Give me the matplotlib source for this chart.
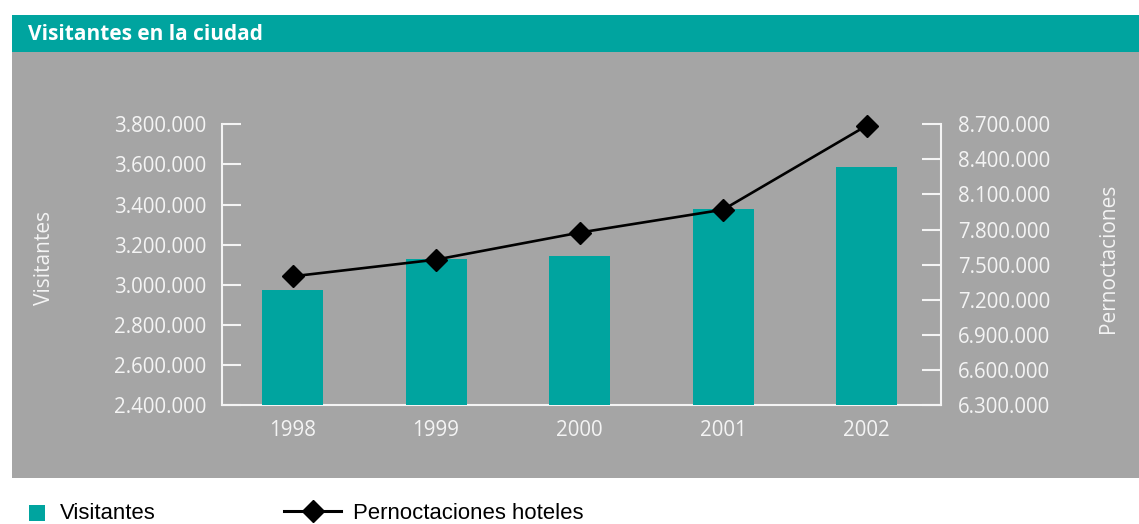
import matplotlib
matplotlib.use("Agg")
import matplotlib.pyplot as plt
from matplotlib.patches import Rectangle
from matplotlib.lines import Line2D
from matplotlib.ticker import FuncFormatter, FixedLocator

# --- data -------------------------------------------------------------
years = ["1998", "1999", "2000", "2001", "2002"]
visitantes = [2974000, 3128000, 3145000, 3378000, 3587000]
pernoctaciones = [7400000, 7543000, 7774000, 7970000, 8688000]

left_ticks = [2400000, 2600000, 2800000, 3000000, 3200000, 3400000, 3600000, 3800000]
right_ticks = [6300000, 6600000, 6900000, 7200000, 7500000, 7800000, 8100000, 8400000, 8700000]

title = "Visitantes en la ciudad"
left_label = "Visitantes"
right_label = "Pernoctaciones"
legend_labels = ["Visitantes", "Pernoctaciones hoteles"]

# --- style ------------------------------------------------------------
TEAL = "#00A49F"
GREY = "#A5A5A5"
WHITE = "#F4F4F4"
W, H = 1139, 524
DPI = 100

num_font = ["Open Sans", "DejaVu Sans"]
leg_font = ["Liberation Sans", "DejaVu Sans"]

fig = plt.figure(figsize=(W / DPI, H / DPI), dpi=DPI)
fig.patch.set_facecolor("white")


def fx(px):
    return px / W


def fy(py):
    return 1 - py / H


def add_rect(x0, y0, x1, y1, color):
    fig.add_artist(Rectangle((fx(x0), fy(y1)), fx(x1) - fx(x0), fy(y0) - fy(y1),
                             transform=fig.transFigure, facecolor=color,
                             edgecolor="none", zorder=0))


# header band and grey panel
add_rect(12, 15, W, 52, TEAL)
add_rect(12, 52, W, 478, GREY)
fig.text(fx(28), fy(39.5), title, color="white", fontsize=15, fontweight="bold",
         family=num_font, va="baseline", ha="left")

# --- axes -------------------------------------------------------------
ax_l, ax_r, ax_t, ax_b = 221.5, 940.5, 124.3, 405
ax = fig.add_axes([fx(ax_l), fy(ax_b), fx(ax_r) - fx(ax_l), fy(ax_t) - fy(ax_b)])
ax.set_facecolor("none")
ax2 = ax.twinx()
ax2.set_facecolor("none")

x = list(range(len(years)))
ax.bar(x, visitantes, width=0.425, color=TEAL, zorder=2)
ax2.plot(x, pernoctaciones, color="black", lw=1.9, marker="D", markersize=10.8,
         markerfacecolor="black", markeredgecolor="black", zorder=3, clip_on=False)

ax.set_xlim(-0.495, 4.515)
ax.set_ylim(left_ticks[0], left_ticks[-1])
ax2.set_ylim(right_ticks[0], right_ticks[-1])


def thousands(v, pos=None):
    return f"{int(v):,}".replace(",", ".")


ax.yaxis.set_major_locator(FixedLocator(left_ticks))
ax.yaxis.set_major_formatter(FuncFormatter(thousands))
ax2.yaxis.set_major_locator(FixedLocator(right_ticks))
ax2.yaxis.set_major_formatter(FuncFormatter(thousands))
ax.set_xticks(x)
ax.set_xticklabels(years)

SPINE_W = 1.5
for a in (ax, ax2):
    for s in a.spines.values():
        s.set_visible(False)
ax.spines["left"].set_visible(True)
ax.spines["bottom"].set_visible(True)
ax2.spines["right"].set_visible(True)
for s in (ax.spines["left"], ax.spines["bottom"], ax2.spines["right"]):
    s.set_color(WHITE)
    s.set_linewidth(SPINE_W)
    s.set_zorder(1)

ax.tick_params(axis="y", direction="in", length=13.5, width=SPINE_W, color=WHITE,
               labelcolor=WHITE, labelsize=14.8, pad=11)
ax2.tick_params(axis="y", direction="in", length=13.5, width=SPINE_W, color=WHITE,
                labelcolor=WHITE, labelsize=14.8, pad=12.5)
ax.tick_params(axis="x", length=0, labelcolor=WHITE, labelsize=14.8, pad=10.5)
for lab in ax.get_yticklabels() + ax2.get_yticklabels() + ax.get_xticklabels():
    lab.set_family(num_font)

# axis titles
fig.text(fx(44), fy(257.5), left_label, rotation=90, color=WHITE, fontsize=15,
         family=num_font, ha="center", va="center")
fig.text(fx(1108), fy(258.3), right_label, rotation=90, color=WHITE, fontsize=15,
         family=num_font, ha="center", va="center")

# --- legend -----------------------------------------------------------
leg_base = 519.0
add_rect(29, 505.5, 45, 520.8, TEAL)
fig.text(fx(60), fy(leg_base), legend_labels[0], color="black", fontsize=15.9,
         family=leg_font, va="baseline", ha="left")
fig.add_artist(Line2D([fx(284), fx(341)], [fy(510.5), fy(510.5)], transform=fig.transFigure,
                      color="black", lw=2.2))
fig.add_artist(Line2D([fx(313)], [fy(510.5)], transform=fig.transFigure, marker="D",
                      markersize=11.5, color="black", lw=0))
fig.text(fx(353), fy(leg_base), legend_labels[1], color="black", fontsize=15.9,
         family=leg_font, va="baseline", ha="left")

fig.savefig("out.png", dpi=DPI, facecolor=fig.get_facecolor())
